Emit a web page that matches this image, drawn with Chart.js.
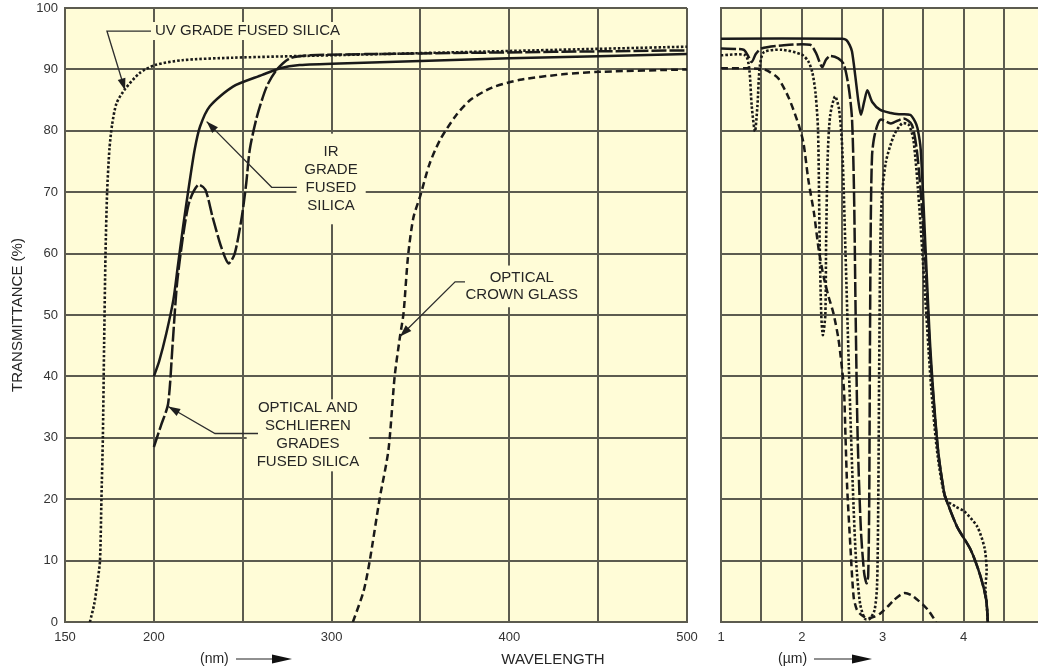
<!DOCTYPE html>
<html><head><meta charset="utf-8">
<script src="https://cdn.jsdelivr.net/npm/chart.js@4.4.1/dist/chart.umd.min.js"></script>
<style>
html,body{margin:0;padding:0;background:#fff;}
#wrap{position:relative;width:1038px;height:668px;overflow:hidden;background:#fff;}
#left{position:absolute;left:0;top:0;}
#right{position:absolute;left:700px;top:0;}
</style></head><body>
<div id="wrap">
<canvas id="left" width="700" height="668"></canvas>
<canvas id="right" width="338" height="668"></canvas>
</div>
<script>
// ---------- tick positions / labels ----------
const nmGrid = [150,200,250,300,350,400,450,500];
const nmLabels = [150,200,300,400,500];
const umGrid = [1,1.5,2,2.5,3,3.5,4,4.5];
const umLabels = [1,2,3,4];
const yGrid = [0,10,20,30,40,50,60,70,80,90,100];

// ---------- series: ultraviolet range (nm, %) ----------
const uvGradeNm = [[164,0],[166.5,3],[168.5,7],[169.7,10],[170.5,20],[171.3,30],[172,45],[172.8,60],[173.7,70],[175,77],[176.5,81],[179,84.5],[183.8,86.8],[192,89.4],[200.6,90.7],[216,91.5],[244,91.9],[300,92.3],[400,93],[500,93.7]];
const irGradeNm = [[200,40],[203,42.5],[207,47],[211,52.5],[213.5,58],[216.5,64.5],[220,71.5],[223,77],[226,80.7],[231.5,84],[244.5,87.2],[261,89.1],[271,90.2],[282,90.7],[309,91],[400,91.8],[500,92.5]];
const schlierenNm = [[200,28.5],[204,32],[208,35.5],[210.5,45],[213,55],[216.5,63],[220,68.5],[225,71.2],[229,70.4],[233,66],[238,61],[242,58.4],[245.5,60],[249.5,66],[252,71.5],[254,77],[258,82.3],[263.5,87.2],[269,89.9],[276.5,91.8],[288,92.3],[350,92.6],[500,93.1]];
const crownNm = [[312,0],[318,5],[321.5,10],[327,20],[332,28],[335.5,40],[338.5,46.5],[340.5,50.3],[343,59.5],[346,65.8],[350,69.5],[355,74.5],[361,78.5],[370,82.5],[378,85],[390,87],[406,88.3],[430,89.2],[451,89.6],[500,90]];

// ---------- series: infrared range (um, %) ----------
const uvGradeUm = [[1,92.3],[1.3,92.3],[1.35,90],[1.38,84],[1.42,79.9],[1.45,84],[1.48,90.5],[1.53,92.8],[1.75,93.2],[2.0,92.4],[2.08,91.3],[2.13,89.5],[2.17,86],[2.2,80],[2.22,62],[2.24,50],[2.26,46.7],[2.29,50],[2.3,62],[2.32,76],[2.35,82.5],[2.41,85.6],[2.46,83.5],[2.5,77],[2.54,60],[2.58,42],[2.63,22],[2.67,10],[2.72,3],[2.78,0.5],[2.84,0.5],[2.9,2],[2.93,6],[2.945,20],[2.955,39.4],[2.97,61],[2.99,69.3],[3.04,75],[3.14,79.3],[3.24,81.2],[3.32,81],[3.38,78.5],[3.45,68],[3.52,54],[3.6,38],[3.68,27],[3.78,20],[3.9,18.8],[4.01,18],[4.17,15.5],[4.26,12],[4.285,8.5],[4.27,5.5],[4.29,2],[4.3,0]];
const irGradeUm = [[1,95],[2.5,95],[2.55,94.8],[2.59,94],[2.62,92.9],[2.66,89],[2.7,84.7],[2.73,82.6],[2.77,84.7],[2.81,86.6],[2.87,84.7],[2.97,83.4],[3.1,82.9],[3.2,82.7],[3.34,82.6],[3.4,81.5],[3.43,80.4],[3.47,76.9],[3.53,60.6],[3.59,44.3],[3.68,28.6],[3.76,21],[3.8,19.4],[3.92,15.5],[4.09,11.7],[4.21,7.4],[4.28,3.6],[4.3,0]];
const schlierenUm = [[1,93.4],[1.28,93.2],[1.33,92.3],[1.38,91.2],[1.43,92.5],[1.5,93.4],[1.75,93.9],[2.1,94],[2.17,92.8],[2.25,90.4],[2.3,91.6],[2.35,92.2],[2.45,91.8],[2.52,90.8],[2.58,87],[2.62,82],[2.645,70],[2.665,50],[2.69,30],[2.73,15],[2.77,8],[2.8,6.3],[2.82,7.5],[2.833,20],[2.842,45],[2.852,65],[2.868,76],[2.9,79.3],[2.97,81.8],[3.1,81.2],[3.26,82],[3.36,81],[3.42,77],[3.47,70],[3.53,58],[3.59,43],[3.68,28.3],[3.76,21],[3.8,19.4],[3.92,15.5],[4.09,11.7],[4.21,7.4],[4.28,3.6],[4.3,0]];
const crownUm = [[1,90.2],[1.5,90.1],[1.6,89.6],[1.71,88.5],[1.84,85.3],[1.96,81],[2.02,78],[2.08,72],[2.15,66.6],[2.21,60.5],[2.27,56.2],[2.33,53],[2.39,50.3],[2.45,46.3],[2.48,43.2],[2.52,38],[2.54,30],[2.56,22],[2.6,12.3],[2.64,4.1],[2.68,2],[2.73,1.2],[2.81,0.6],[2.9,0.9],[2.97,1.4],[3.06,2.5],[3.14,3.6],[3.26,4.7],[3.35,4.4],[3.43,3.6],[3.5,2.8],[3.57,1.8],[3.66,0]];

// ---------- annotation texts (data coordinates) ----------
const notesLeft = [
  {lines:['UV GRADE FUSED SILICA'], x:252.7, y:96.25, lh:18, pad:[3,3], leader:[[198.4,96.25],[173.6,96.25],[183.8,86.6]]},
  {lines:['IR','GRADE','FUSED','SILICA'], x:299.7, y:76.6, lh:18.2, pad:[8,12], leader:[[280.5,70.8],[266.3,70.8],[229.7,81.5]]},
  {lines:['OPTICAL AND','SCHLIEREN','GRADES','FUSED SILICA'], x:286.7, y:34.8, lh:18, pad:[10,3], leader:[[258.6,30.7],[234.4,30.7],[208.1,35.1]]},
  {lines:['OPTICAL','CROWN GLASS'], x:407, y:56.1, lh:17.7, pad:[6,6], leader:[[375.1,55.4],[369.5,55.4],[338.5,46.5]]}
];

const BG = '#fffcd7';
const GRID = '#5c5b4f';
const INK = '#1a1a1a';
const TXT = '#262626';
const FONT = "'Liberation Sans', Arial, Helvetica, sans-serif";

const toXY = a => a.map(p => ({x:p[0], y:p[1]}));
function ds(label, arr, dash, w){
  return {label, data: toXY(arr), borderColor: INK, borderWidth: w || 2.5, borderDash: dash,
    pointRadius: 0, tension: 0.25, fill: false, borderCapStyle: 'butt', borderJoinStyle: 'round'};
}
const STY = {solid: [], longDash: [15,3], dot: [2.5,2], dash: [7,4]};

function arrowHead(ctx, x1, y1, x2, y2, len, hw){
  const a = Math.atan2(y2-y1, x2-x1);
  ctx.beginPath();
  ctx.moveTo(x2, y2);
  ctx.lineTo(x2 - len*Math.cos(a) + hw*Math.sin(a), y2 - len*Math.sin(a) - hw*Math.cos(a));
  ctx.lineTo(x2 - len*Math.cos(a) - hw*Math.sin(a), y2 - len*Math.sin(a) + hw*Math.cos(a));
  ctx.closePath();
  ctx.fill();
}

const bgPlugin = {
  id: 'bgfill',
  beforeDraw(chart){
    const {ctx, chartArea: a} = chart;
    ctx.save(); ctx.fillStyle = BG; ctx.fillRect(a.left, a.top, a.right-a.left, a.bottom-a.top); ctx.restore();
  }
};

const notesPlugin = {
  id: 'notes',
  beforeDatasetsDraw(chart){
    const {ctx, scales:{x, y}} = chart;
    ctx.save();
    ctx.font = '15px ' + FONT;
    ctx.fillStyle = BG;
    notesLeft.forEach(n => {
      const cx = x.getPixelForValue(n.x), y0 = y.getPixelForValue(n.y);
      const w = Math.max(...n.lines.map(t => ctx.measureText(t).width));
      const top = y0 - 6 - n.pad[1];
      const bot = y0 + (n.lines.length-1)*n.lh + 6 + n.pad[1];
      ctx.fillRect(cx - w/2 - n.pad[0], top, w + 2*n.pad[0], bot - top);
    });
    ctx.restore();
  },
  afterDatasetsDraw(chart){
    const {ctx, scales:{x, y}} = chart;
    ctx.save();
    ctx.font = '15px ' + FONT;
    ctx.fillStyle = TXT;
    ctx.textAlign = 'center';
    ctx.textBaseline = 'middle';
    notesLeft.forEach(n => {
      const cx = x.getPixelForValue(n.x), y0 = y.getPixelForValue(n.y);
      n.lines.forEach((t,i) => ctx.fillText(t, cx, y0 + i*n.lh));
      const pts = n.leader.map(p => [x.getPixelForValue(p[0]), y.getPixelForValue(p[1])]);
      ctx.strokeStyle = '#2e2e2e'; ctx.lineWidth = 1.3;
      ctx.beginPath();
      pts.forEach((p,i) => i ? ctx.lineTo(p[0],p[1]) : ctx.moveTo(p[0],p[1]));
      ctx.stroke();
      const k = pts.length-1;
      ctx.fillStyle = '#1e1e1e';
      arrowHead(ctx, pts[k-1][0], pts[k-1][1], pts[k][0], pts[k][1], 12, 4);
      ctx.fillStyle = TXT;
    });
    ctx.restore();
  },
  afterDraw(chart){
    const {ctx, chartArea: a} = chart;
    ctx.save();
    ctx.font = '14px ' + FONT;
    ctx.fillStyle = TXT;
    ctx.textBaseline = 'middle';
    ctx.textAlign = 'left';
    const yy = a.bottom + 37;
    ctx.fillText('(nm)', 200, yy);
    ctx.strokeStyle = '#222'; ctx.lineWidth = 1.2;
    ctx.beginPath(); ctx.moveTo(236, yy); ctx.lineTo(278, yy); ctx.stroke();
    ctx.fillStyle = '#111';
    arrowHead(ctx, 236, yy, 292, yy, 20, 4.5);
    ctx.fillStyle = TXT;
    ctx.textAlign = 'center';
    ctx.font = '15px ' + FONT;
    ctx.fillText('WAVELENGTH', 553, yy + 1);
    ctx.restore();
  }
};

const rightLabelPlugin = {
  id: 'rlabel',
  afterDraw(chart){
    const {ctx, chartArea: a} = chart;
    ctx.save();
    ctx.font = '14px ' + FONT;
    ctx.fillStyle = TXT;
    ctx.textBaseline = 'middle';
    ctx.textAlign = 'left';
    const yy = a.bottom + 37;
    ctx.fillText('(\u00b5m)', 78, yy);
    ctx.strokeStyle = '#222'; ctx.lineWidth = 1.2;
    ctx.beginPath(); ctx.moveTo(114, yy); ctx.lineTo(158, yy); ctx.stroke();
    ctx.fillStyle = '#111';
    arrowHead(ctx, 114, yy, 172, yy, 20, 4.5);
    ctx.restore();
  }
};

function axisX(min, max, grid, labels){
  return {
    type: 'linear', min, max,
    afterBuildTicks: s => { s.ticks = grid.map(v => ({value: v})); },
    afterFit: s => { s.height = 46; s.paddingLeft = 0; s.paddingRight = 0; },
    grid: {color: GRID, lineWidth: 2, drawTicks: false},
    border: {color: GRID, width: 2},
    ticks: {padding: 8, autoSkip: false, maxRotation: 0, color: '#333',
      font: {family: FONT, size: 13},
      callback: v => labels.includes(v) ? String(v) : ''}
  };
}
function axisY(width, showLabels, title){
  return {
    type: 'linear', min: 0, max: 100,
    afterBuildTicks: s => { s.ticks = yGrid.map(v => ({value: v})); },
    afterFit: s => { s.width = width; s.paddingTop = 0; s.paddingBottom = 0; },
    grid: {color: GRID, lineWidth: 2, drawTicks: false},
    border: {color: GRID, width: 2},
    ticks: {display: showLabels, padding: 7, color: '#333', font: {family: FONT, size: 13}},
    title: title ? {display: true, text: title, color: TXT, font: {family: FONT, size: 15}, padding: {top: 9, bottom: 0}} : {display: false}
  };
}
const common = {
  responsive: false, animation: false, devicePixelRatio: 1, events: [],
  plugins: {legend: {display: false}, tooltip: {enabled: false}}
};

new Chart(document.getElementById('left'), {
  type: 'line',
  data: {datasets: [
    ds('UV grade fused silica', uvGradeNm, STY.dot, 2.6),
    ds('IR grade fused silica', irGradeNm, STY.solid),
    ds('Optical and schlieren grades fused silica', schlierenNm, STY.longDash),
    ds('Optical crown glass', crownNm, STY.dash)
  ]},
  options: Object.assign({}, common, {
    layout: {padding: {top: 8, right: 13, left: 0, bottom: 0}},
    scales: {x: axisX(150, 500, nmGrid, nmLabels), y: axisY(65, true, 'TRANSMITTANCE (%)')}
  }),
  plugins: [bgPlugin, notesPlugin]
});

new Chart(document.getElementById('right'), {
  type: 'line',
  data: {datasets: [
    ds('UV grade fused silica', uvGradeUm, STY.dot, 2.6),
    ds('IR grade fused silica', irGradeUm, STY.solid),
    ds('Optical and schlieren grades fused silica', schlierenUm, STY.longDash),
    ds('Optical crown glass', crownUm, STY.dash)
  ]},
  options: Object.assign({}, common, {
    layout: {padding: {top: 8, right: 0, left: 0, bottom: 0}},
    scales: {x: axisX(1, 4.92, umGrid, umLabels), y: axisY(21, false, null)}
  }),
  plugins: [bgPlugin, rightLabelPlugin]
});
</script>
</body></html>
